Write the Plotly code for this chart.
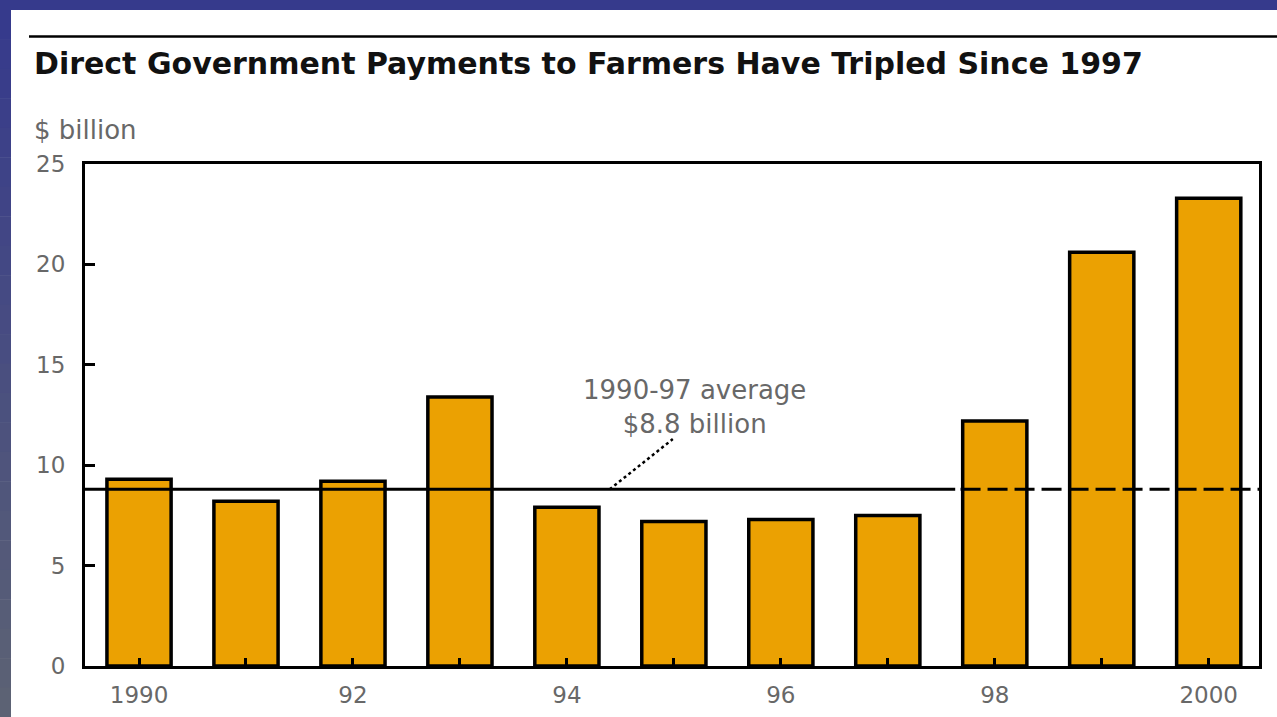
import plotly.graph_objects as go

# Direct government payments to farmers, $ billion
years = ["1990", "1991", "1992", "1993", "1994", "1995",
         "1996", "1997", "1998", "1999", "2000"]
payments = [9.3, 8.2, 9.2, 13.4, 7.9, 7.2, 7.3, 7.5, 12.2, 20.6, 23.3]
tick_labels = ["1990", "", "92", "", "94", "", "96", "", "98", "", "2000"]
y_ticks = [0, 5, 10, 15, 20, 25]
avg_1990_97 = 8.8

W, H = 1277, 717
L, R, T, B = 85, 18, 164, 51
PW, PH = W - L - R, H - T - B


def px(xp):
    return (xp - L) / PW


def py(yp):
    return (H - B - yp) / PH


GRAY = "#686868"
FONT = "DejaVu Sans"

fig = go.Figure()
fig.add_trace(go.Bar(
    x=list(range(len(years))), y=payments, width=0.6,
    marker=dict(color="#EBA102", line=dict(color="black", width=3.5)),
    hoverinfo="x+y",
))

shapes = []
# slide frame: blue band on top, gradient band on the left
shapes.append(dict(type="rect", xref="paper", yref="paper",
                   x0=px(0), x1=px(W), y0=py(10), y1=py(0),
                   fillcolor="#363a8c", line=dict(width=0), layer="below"))
n = 24
c0, c1 = (0x36, 0x3a, 0x8c), (0x5c, 0x62, 0x74)
for i in range(n):
    t = i / (n - 1)
    col = "rgb(%d,%d,%d)" % tuple(round(a + (b - a) * t) for a, b in zip(c0, c1))
    y_top = 10 + (H - 10) * i / n
    y_bot = 10 + (H - 10) * (i + 1) / n
    shapes.append(dict(type="rect", xref="paper", yref="paper",
                       x0=px(0), x1=px(11), y0=py(y_bot + 0.5), y1=py(y_top),
                       fillcolor=col, line=dict(width=0), layer="below"))
shapes.append(dict(type="rect", xref="paper", yref="paper",
                   x0=px(0), x1=px(11), y0=py(10), y1=py(0),
                   fillcolor="#363a8c", line=dict(width=0), layer="below"))
# rule above the title
shapes.append(dict(type="line", xref="paper", yref="paper",
                   x0=px(29), x1=px(W), y0=py(36.5), y1=py(36.5),
                   line=dict(color="black", width=2.5)))

# 1990-97 average: solid through 1997, dashed afterwards
split_x = 7.63
shapes.append(dict(type="line", xref="x", yref="y",
                   x0=-0.6, x1=split_x, y0=avg_1990_97, y1=avg_1990_97,
                   line=dict(color="black", width=3), layer="above"))
shapes.append(dict(type="line", xref="x", yref="y",
                   x0=split_x + 0.05, x1=10.47, y0=avg_1990_97, y1=avg_1990_97,
                   line=dict(color="black", width=3, dash="20px,7px"), layer="above"))
# leader from the label to the average line
shapes.append(dict(type="line", xref="x", yref="y",
                   x0=4.40, y0=avg_1990_97, x1=4.99, y1=11.3,
                   line=dict(color="black", width=2.5, dash="dot"), layer="above"))

annotations = [
    dict(text="1990-97 average<br>$8.8 billion", x=5.19, y=12.9,
         xref="x", yref="y", showarrow=False, align="center",
         font=dict(family=FONT, size=26, color=GRAY)),
    dict(text="$ billion", x=px(32), y=py(130), xref="paper", yref="paper",
         xanchor="left", yanchor="middle", showarrow=False,
         font=dict(family=FONT, size=26, color=GRAY)),
]

fig.update_layout(
    width=W, height=H,
    margin=dict(l=L, r=R, t=T, b=B),
    paper_bgcolor="white", plot_bgcolor="white",
    showlegend=False, bargap=0.4,
    title=dict(text="Direct Government Payments to Farmers Have Tripled Since 1997",
               x=34 / W, xanchor="left", y=1 - 63 / H, yanchor="middle",
               font=dict(family=FONT, size=30, color="#111111", weight="bold")),
    shapes=shapes, annotations=annotations,
    xaxis=dict(range=[-0.505, 10.47], tickmode="array",
               tickvals=list(range(len(years))), ticktext=tick_labels,
               ticks="inside", ticklen=8, tickwidth=3, tickcolor="black",
               showline=True, linewidth=3, linecolor="black", mirror=True,
               showgrid=False, zeroline=False, fixedrange=True, ticklabelstandoff=6,
               automargin=False,
               tickfont=dict(family=FONT, size=23, color=GRAY)),
    yaxis=dict(range=[0, 25], tickvals=y_ticks,
               ticks="inside", ticklen=10, tickwidth=3, tickcolor="black",
               showline=True, linewidth=3, linecolor="black", mirror=True,
               showgrid=False, zeroline=False, fixedrange=True, ticklabelstandoff=12,
               automargin=False,
               tickfont=dict(family=FONT, size=23, color=GRAY)),
)

fig.write_html("out.html", config={"displayModeBar": False})
